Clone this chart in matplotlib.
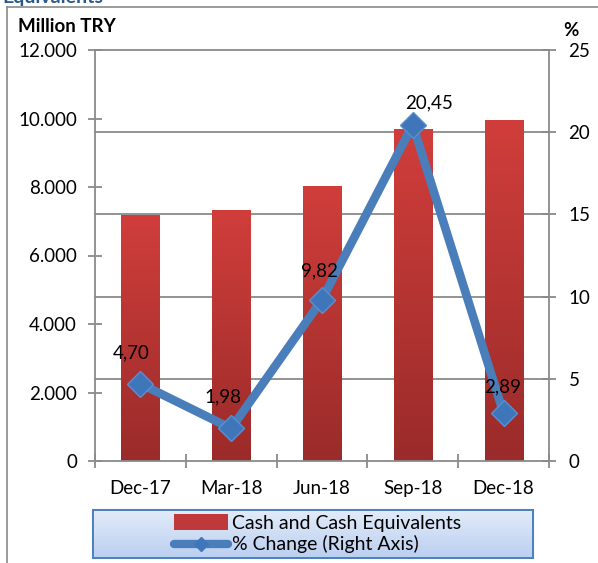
import matplotlib
matplotlib.use("Agg")
import matplotlib.pyplot as plt
import numpy as np
from matplotlib.patches import Rectangle
from matplotlib.lines import Line2D
from matplotlib.legend_handler import HandlerPatch
from matplotlib.colors import LinearSegmentedColormap

categories = ["Dec-17", "Mar-18", "Jun-18", "Sep-18", "Dec-18"]
cash = [7180, 7330, 8030, 9690, 9950]
pct_change = [4.70, 1.98, 9.82, 20.45, 2.89]
pct_labels = ["4,70", "1,98", "9,82", "20,45", "2,89"]
left_ticks = [0, 2000, 4000, 6000, 8000, 10000, 12000]
left_ticklabels = ["0", "2.000", "4.000", "6.000", "8.000", "10.000", "12.000"]
right_ticks = [0, 5, 10, 15, 20, 25]

FONT = "Lato"
plt.rcParams["font.family"] = [FONT, "DejaVu Sans"]
GRAY = "#8a8a8a"
BLUE = "#4a7ebb"
FS = 13.5

fig = plt.figure(figsize=(5.98, 5.63), dpi=100)
W, H = 598, 563
def fx(px): return px / W
def fy(py): return 1 - py / H

ax = fig.add_axes([fx(95), fy(461), fx(549) - fx(95), fy(50) - fy(461)])
ax2 = ax.twinx()

x = np.arange(len(categories))
bars = ax.bar(x, cash, width=0.42, color="#c0393a", zorder=2, linewidth=0)
grad = np.linspace(0, 1, 256).reshape(-1, 1)
cmap = LinearSegmentedColormap.from_list("r", ["#9a2b2a", "#d03e3b"])
for b in bars:
    x0, w, h = b.get_x(), b.get_width(), b.get_height()
    im = ax.imshow(grad, extent=[x0, x0 + w, 0, h], origin="lower", cmap=cmap,
                   aspect="auto", zorder=2.1)
    im.set_clip_path(b)

ax.set_xlim(-0.5, len(categories) - 0.5)
ax.set_ylim(0, 12000)
ax2.set_ylim(0, 25)

# gridlines at right-axis ticks, drawn behind bars
for v in right_ticks[1:]:
    ax.plot([0, 1], [v, v], transform=ax2.get_yaxis_transform(), color=GRAY,
            lw=1.3, zorder=1, clip_on=False)

ax2.plot(x, pct_change, color=BLUE, lw=6.2, marker="D", markersize=13,
         markerfacecolor="#3f75b9", markeredgecolor="#5a8fd2", markeredgewidth=1,
         zorder=3, solid_joinstyle="miter")

offsets = [(-6.5, 22), (-5.8, 23), (-2.2, 21), (11.5, 16), (-0.7, 19)]
for xi, yi, lab, off in zip(x, pct_change, pct_labels, offsets):
    ax2.annotate(lab, (xi, yi), xytext=off, textcoords="offset points",
                 ha="center", va="center", fontsize=13.5, color="black", zorder=5)

ax.set_yticks(left_ticks)
ax.set_yticklabels(left_ticklabels)
ax2.set_yticks(right_ticks)
ax.set_xticks(x)
ax.set_xticklabels(categories)
ax.set_xticks(np.arange(-0.5, len(categories)), minor=True)

for a in (ax, ax2):
    for s in a.spines.values():
        s.set_color(GRAY)
        s.set_linewidth(1.3)
    a.spines["top"].set_visible(False)
ax.spines["right"].set_visible(False)
ax2.spines["left"].set_visible(False)
ax2.spines["bottom"].set_visible(False)

ax.tick_params(axis="y", direction="inout", length=10, width=1.3, color=GRAY,
               labelsize=FS, pad=8)
ax2.tick_params(axis="y", direction="inout", length=10, width=1.3, color=GRAY,
                labelsize=FS, pad=9)
ax.tick_params(axis="x", which="major", length=0, labelsize=FS, pad=14)
ax.tick_params(axis="x", which="minor", direction="inout", length=10, width=1.3,
               color=GRAY)

fig.text(fx(18), fy(26), "Million TRY", fontsize=13.5, fontweight="bold", va="center")
fig.text(fx(571), fy(30), "%", fontsize=13.5, fontweight="bold", va="center", ha="center")

# outer frame lines
fig.add_artist(Line2D([fx(7), 1], [fy(7), fy(7)], color=GRAY, lw=1.2))
fig.add_artist(Line2D([fx(7), fx(7)], [fy(7), 0], color=GRAY, lw=1.2))
# clipped title (cut off at top edge as in the reference)
fig.text(fx(2), fy(3), "Equivalents", fontsize=14, fontweight="bold", color="#2a5a8c",
         va="baseline")

# legend box
box = Rectangle((fx(93), fy(558)), fx(533) - fx(93), fy(510) - fy(558),
                transform=fig.transFigure, facecolor="#cfdcf4", edgecolor="#4f81bd",
                lw=1.5, zorder=0)
fig.add_artist(box)
gax = fig.add_axes([fx(94), fy(557), fx(532) - fx(94), fy(511) - fy(557)], zorder=0.5)
gax.imshow(np.linspace(0, 1, 64).reshape(-1, 1), cmap=LinearSegmentedColormap.from_list(
    "b", ["#e2ebf9", "#bcd0f1"]), aspect="auto", extent=[0, 1, 0, 1])
gax.axis("off")

class GradHandler(HandlerPatch):
    def create_artists(self, legend, orig_handle, xdescent, ydescent, width, height,
                       fontsize, trans):
        r = Rectangle((-xdescent, -ydescent - 1), width, height + 2,
                      facecolor="#c0393a", edgecolor="none", transform=trans)
        return [r]

h1 = Rectangle((0, 0), 1, 1, facecolor="#c0393a")
h2 = Line2D([], [], color=BLUE, lw=6, marker="D", markersize=7,
            markerfacecolor="#3f75b9", markeredgecolor="#3f75b9",
            solid_capstyle="round")
leg = fig.legend([h1, h2], ["Cash and Cash Equivalents", "% Change (Right Axis)"],
                 loc="center left", bbox_to_anchor=(fx(160), fy(534)), frameon=False,
                 fontsize=14, handlelength=2.8, handletextpad=0.2, labelspacing=0.2,
                 borderpad=0.2, handler_map={Rectangle: GradHandler()})
leg.set_zorder(2)

fig.savefig("out.png", dpi=100)
